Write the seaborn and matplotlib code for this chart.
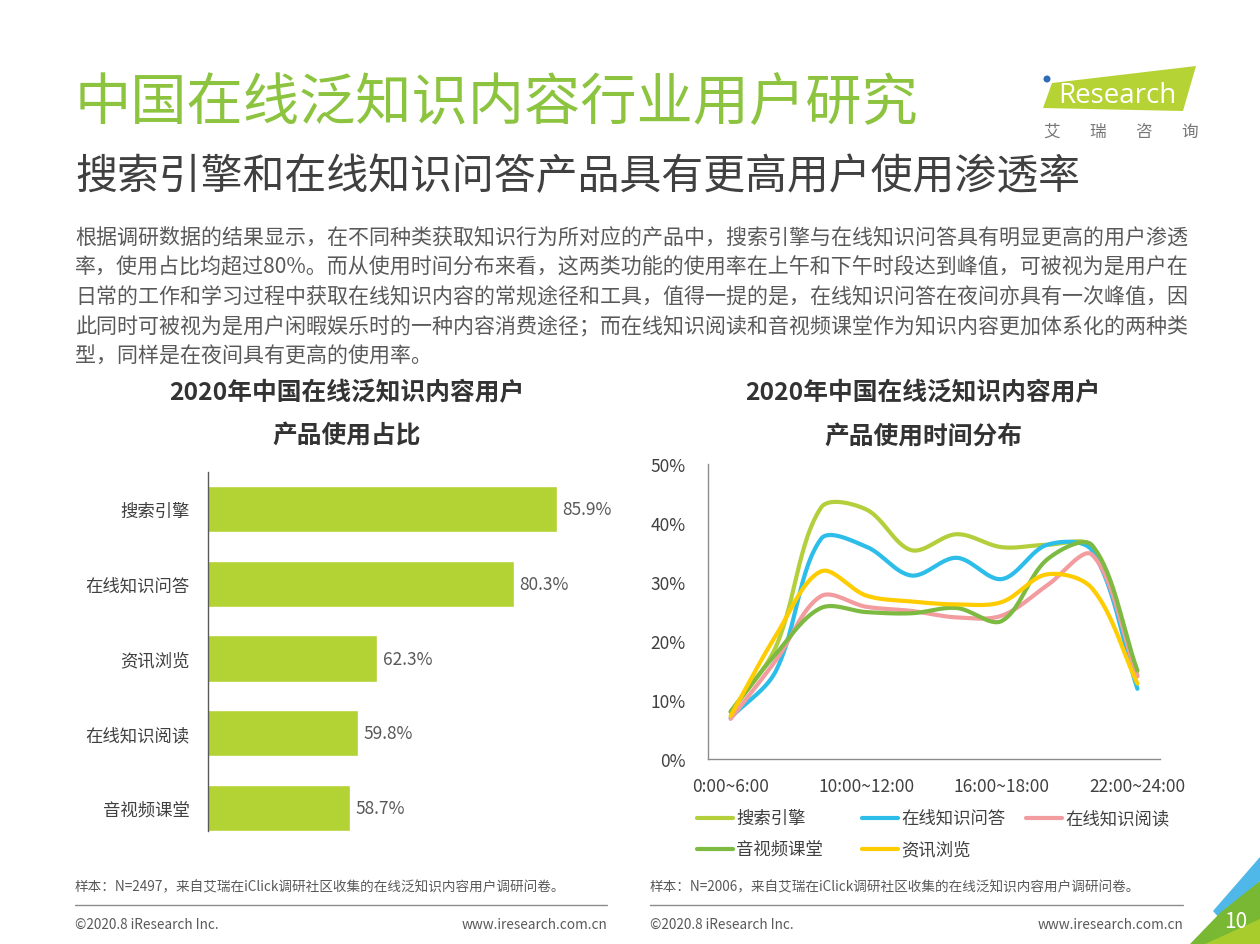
import numpy as np
import pandas as pd
import matplotlib.pyplot as plt
import seaborn as sns
from matplotlib.patches import Polygon, Circle

# data
bar_cats = ['搜索引擎', '在线知识问答', '资讯浏览', '在线知识阅读', '音视频课堂']
bar_vals = [85.9, 80.3, 62.3, 59.8, 58.7]

time_slots = ['0:00~6:00', '6:00~8:00', '8:00~10:00', '10:00~12:00', '12:00~14:00',
              '14:00~16:00', '16:00~18:00', '18:00~20:00', '20:00~22:00', '22:00~24:00']
search_engine = [8.0, 19.0, 42.6, 42.3, 35.4, 38.1, 35.9, 36.3, 36.0, 14.3]
knowledge_qa = [7.0, 14.9, 37.3, 36.0, 31.1, 34.1, 30.5, 36.3, 35.3, 11.9]
knowledge_read = [6.8, 16.7, 27.6, 25.8, 25.1, 24.0, 24.3, 29.4, 34.6, 14.0]
av_course = [8.0, 17.8, 25.6, 24.9, 24.7, 25.6, 23.4, 33.8, 36.2, 15.0]
news_browse = [7.3, 20.9, 31.8, 27.7, 26.7, 26.2, 26.6, 31.3, 28.9, 12.8]

series_names = ['搜索引擎', '在线知识问答', '在线知识阅读', '音视频课堂', '资讯浏览']
series_vals = [search_engine, knowledge_qa, knowledge_read, av_course, news_browse]
series_colors = ['#b3cf3c', '#2cbde9', '#f29c9f', '#7cba42', '#ffcc00']

para_lines = [
    '根据调研数据的结果显示，在不同种类获取知识行为所对应的产品中，搜索引擎与在线知识问答具有明显更高的用户渗透',
    '率，使用占比均超过80%。而从使用时间分布来看，这两类功能的使用率在上午和下午时段达到峰值，可被视为是用户在',
    '日常的工作和学习过程中获取在线知识内容的常规途径和工具，值得一提的是，在线知识问答在夜间亦具有一次峰值，因',
    '此同时可被视为是用户闲暇娱乐时的一种内容消费途径；而在线知识阅读和音视频课堂作为知识内容更加体系化的两种类',
    '型，同样是在夜间具有更高的使用率。',
]

GREEN = '#8cc43f'
DARK = '#404040'
GRAY = '#595959'


def smooth(vals, sx=45.2, sy=5.9, steps=30):
    # bezier smoothing with chord-weighted handles (roughly what office charts do)
    p = np.column_stack([np.arange(len(vals)) * sx, np.asarray(vals, float) * sy])
    n = len(p)
    out_x, out_y = [], []
    for i in range(n - 1):
        a, b = p[i], p[i + 1]
        pa = p[i - 1] if i > 0 else a
        pb = p[i + 2] if i + 2 < n else b
        d_ab = np.hypot(*(b - a))
        d_pa = np.hypot(*(a - pa))
        d_bp = np.hypot(*(pb - b))
        c1 = a + (b - pa) * d_ab / (d_pa + d_ab) / 3
        c2 = b - (pb - a) * d_ab / (d_ab + d_bp) / 3
        t = np.linspace(0, 1, steps, endpoint=False)[:, None]
        pts = ((1 - t) ** 3 * a + 3 * (1 - t) ** 2 * t * c1
               + 3 * (1 - t) * t ** 2 * c2 + t ** 3 * b)
        out_x.extend(pts[:, 0] / sx)
        out_y.extend(pts[:, 1] / sy)
    out_x.append(p[-1, 0] / sx)
    out_y.append(p[-1, 1] / sy)
    return np.array(out_x), np.array(out_y)


sns.set_theme(style='white')
plt.rcParams['font.family'] = ['Noto Sans CJK SC', 'DejaVu Sans']

fig = plt.figure(figsize=(12.6, 9.45), dpi=100)

# page layer in pixel coordinates
bg = fig.add_axes([0, 0, 1, 1])
bg.set_xlim(0, 1260)
bg.set_ylim(945, 0)
bg.axis('off')

bg.text(75, 105, '中国在线泛知识内容行业用户研究', fontsize=40.5, color=GREEN, va='center')
bg.text(75, 178, '搜索引擎和在线知识问答产品具有更高用户使用渗透率', fontsize=30.2, color=DARK, va='center')
for k, line in enumerate(para_lines):
    bg.text(75, 237 + k * 30, line, fontsize=15.1, color=GRAY, va='center')

# logo
bg.add_patch(Polygon([(1052, 84), (1196, 67), (1183, 112), (1043, 109)], closed=True,
                     color='#b5d334', lw=0))
bg.add_patch(Circle((1047, 80), 3.5, color='#2f6db5', lw=0))
bg.text(1058, 96, 'Research', fontsize=20, color='white', va='center', family='Open Sans')
for j, ch in enumerate('艾瑞咨询'):
    bg.text(1052 + j * 46, 132, ch, fontsize=12, color='#777777', va='center', ha='center')

# chart titles
for cx, sub in [(347, '产品使用占比'), (923, '产品使用时间分布')]:
    bg.text(cx, 393, '2020年中国在线泛知识内容用户', fontsize=17.8, fontweight='bold',
            color='#333333', ha='center', va='center')
    bg.text(cx, 437, sub, fontsize=17.8, fontweight='bold', color='#333333', ha='center', va='center')

# footers
for x0, x1, n in [(75, 607, 'N=2497'), (650, 1183, 'N=2006')]:
    bg.text(x0, 887, '样本：' + n + '，来自艾瑞在iClick调研社区收集的在线泛知识内容用户调研问卷。',
            fontsize=9.8, color=GRAY, va='center')
    bg.plot([x0, x1], [906, 906], color='#8c8c8c', lw=1)
    bg.text(x0, 925, '©2020.8 iResearch Inc.', fontsize=9.8, color=GRAY, va='center')
    bg.text(x1, 925, 'www.iresearch.com.cn', fontsize=9.8, color=GRAY, va='center', ha='right')

# page corner
bg.add_patch(Polygon([(1260, 858), (1260, 882), (1221, 921), (1213, 912)], closed=True,
                     color='#4fb8e8', lw=0))
bg.add_patch(Polygon([(1260, 882), (1260, 945), (1190, 945), (1221, 913)], closed=True,
                     color='#78b833', lw=0))
bg.add_patch(Polygon([(1260, 920), (1260, 945), (1205, 945)], closed=True,
                     color='#a8cc2c', lw=0))
bg.text(1236, 922, '10', fontsize=15, color='white', ha='center', va='center')

# bar chart (value axis starts at 40%)
ax1 = fig.add_axes([208 / 1260, 1 - 832 / 945, 407 / 1260, 359 / 945])
bar_df = pd.DataFrame({'cat': bar_cats, 'val': bar_vals})
sns.barplot(data=bar_df, x='val', y='cat', orient='h', color='#b3d234', width=0.62,
            saturation=1, ax=ax1)
ax1.set_xlim(40, 40 + 407 / 7.6)
ax1.set_ylim(4.31, -0.5)
for i, v in enumerate(bar_vals):
    ax1.text(v + 0.7, i, f'{v}%', va='center', fontsize=12.5, color=GRAY)
ax1.set_xlabel('')
ax1.set_ylabel('')
ax1.set_xticks([])
ax1.tick_params(axis='y', length=0, pad=13, labelsize=12.5, labelcolor=DARK)
for s in ['top', 'right', 'bottom']:
    ax1.spines[s].set_visible(False)
ax1.spines['left'].set_color('#595959')
ax1.spines['left'].set_linewidth(1)
ax1.patch.set_alpha(0)

# line chart
ax2 = fig.add_axes([708 / 1260, 1 - 760 / 945, 452 / 1260, 295 / 945])
rows = []
for name, vals in zip(series_names, series_vals):
    xs, ys = smooth(vals)
    rows.append(pd.DataFrame({'x': xs, 'y': ys, 'series': name}))
line_df = pd.concat(rows, ignore_index=True)
sns.lineplot(data=line_df, x='x', y='y', hue='series', hue_order=series_names,
             palette=series_colors, estimator=None, sort=False, linewidth=3,
             legend=False, ax=ax2)
ax2.set_xlim(-0.5, len(time_slots) - 0.5)
ax2.set_ylim(0, 50)
ax2.set_yticks(range(0, 51, 10))
ax2.set_yticklabels([f'{t}%' for t in range(0, 51, 10)])
ax2.set_xticks(range(0, len(time_slots), 3))
ax2.set_xticklabels(time_slots[::3])
ax2.set_xlabel('')
ax2.set_ylabel('')
ax2.tick_params(axis='y', length=0, pad=16, labelsize=12.5, labelcolor=DARK)
ax2.tick_params(axis='x', length=0, pad=13, labelsize=12.5, labelcolor=DARK)
for s in ['top', 'right']:
    ax2.spines[s].set_visible(False)
for s in ['left', 'bottom']:
    ax2.spines[s].set_color('#8c8c8c')
    ax2.spines[s].set_linewidth(1)
ax2.patch.set_alpha(0)

# legend
legend_pos = [(697, 819), (862, 819), (1026, 819), (697, 850), (862, 850)]
for (lx, ly), name, c in zip(legend_pos, series_names, series_colors):
    bg.plot([lx, lx + 36], [ly, ly], color=c, lw=3, solid_capstyle='round')
    bg.text(lx + 39, ly, name, fontsize=12.5, color=DARK, va='center')

fig.savefig('out.png', dpi=100)
